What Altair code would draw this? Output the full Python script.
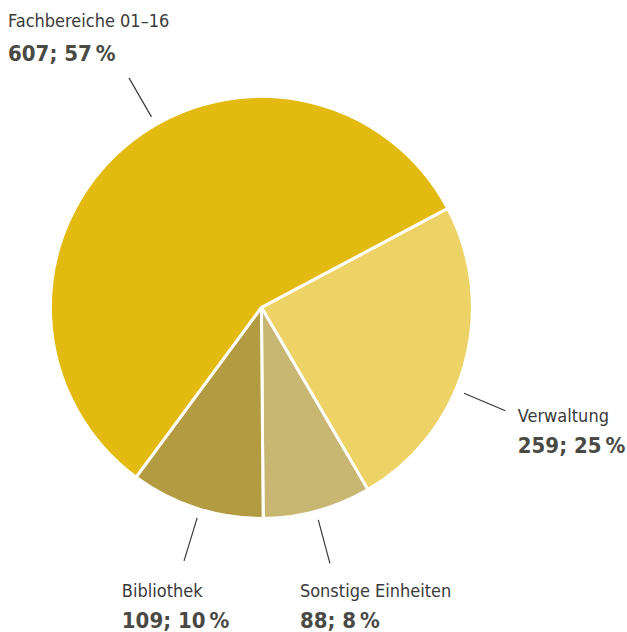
import math
import altair as alt
import pandas as pd

# ---- data ----
categories = ["Verwaltung", "Sonstige Einheiten", "Bibliothek", "Fachbereiche 01–16"]
values = [259, 88, 109, 607]
percents = [25, 8, 10, 57]
colors = ["#EDD366", "#C8B673", "#B29B40", "#E3BA10"]

# ---- layout ----
W, H = 627, 632
CX, CY = 261.4, 307.4
R = 211
START_DEG = 62.0
leader_nudge_deg = [7.1, 0.4, -1.0, 10.8]   # shift of leader line from slice mid-angle
LEADER_R0, LEADER_R1 = 220, 265
# offset from leader end to label: dx, baseline of name, baseline of value line
label_offset = [(12.4, 10.8, 42.5), (-30, 34, 65), (-62.2, 36.5, 67.5), (-120.9, -50.9, -16.5)]
FONT = "'DejaVu Sans Condensed', 'Liberation Sans Narrow', sans-serif"

total = sum(values)
rows, lines, labels = [], [], []
cum = 0.0
for i, (c, v, p) in enumerate(zip(categories, values, percents)):
    rows.append({"cat": c, "value": v, "idx": i})
    mid = START_DEG + (cum + v / 2) / total * 360 + leader_nudge_deg[i]
    cum += v
    t = math.radians(mid)
    x0, y0 = CX + LEADER_R0 * math.sin(t), CY - LEADER_R0 * math.cos(t)
    x1, y1 = CX + LEADER_R1 * math.sin(t), CY - LEADER_R1 * math.cos(t)
    lines.append({"x": x0, "y": y0, "x2": x1, "y2": y1})
    dx, dy1, dy2 = label_offset[i]
    labels.append({"x": x1 + dx, "y": y1 + dy1, "text": c, "kind": "name"})
    labels.append({"x": x1 + dx, "y": y1 + dy2, "text": f"{v}; {p}\u2009%", "kind": "value"})

pie_df = pd.DataFrame(rows)
line_df = pd.DataFrame(lines)
lab_df = pd.DataFrame(labels)

pie = alt.Chart(pie_df).mark_arc(
    outerRadius=R, stroke="white", strokeWidth=3
).encode(
    theta=alt.Theta("value:Q", stack=True,
                    scale=alt.Scale(range=[math.radians(START_DEG), math.radians(START_DEG) + 2 * math.pi])),
    order=alt.Order("idx:Q"),
    color=alt.Color("cat:N", scale=alt.Scale(domain=categories, range=colors), legend=None),
    x=alt.value(CX),
    y=alt.value(CY),
)

leaders = alt.Chart(line_df).mark_rule(color="#3a3a3a", strokeWidth=1.2).encode(
    x=alt.X("x:Q", scale=None), y=alt.Y("y:Q", scale=None),
    x2="x2:Q", y2="y2:Q",
)

names = alt.Chart(lab_df[lab_df.kind == "name"]).mark_text(
    align="left", baseline="alphabetic", font=FONT, fontSize=18, color="#3a3a3a"
).encode(x=alt.X("x:Q", scale=None), y=alt.Y("y:Q", scale=None), text="text:N")

vals = alt.Chart(lab_df[lab_df.kind == "value"]).mark_text(
    align="left", baseline="alphabetic", font=FONT, fontSize=22, fontWeight="bold", color="#4a4a45"
).encode(x=alt.X("x:Q", scale=None), y=alt.Y("y:Q", scale=None), text="text:N")

chart = alt.layer(pie, leaders, names, vals).properties(
    width=W, height=H, autosize=alt.AutoSizeParams(type="none"), padding=0
).configure_view(stroke=None)

chart.save("out.html", embed_options={"renderer": "svg", "actions": False})
